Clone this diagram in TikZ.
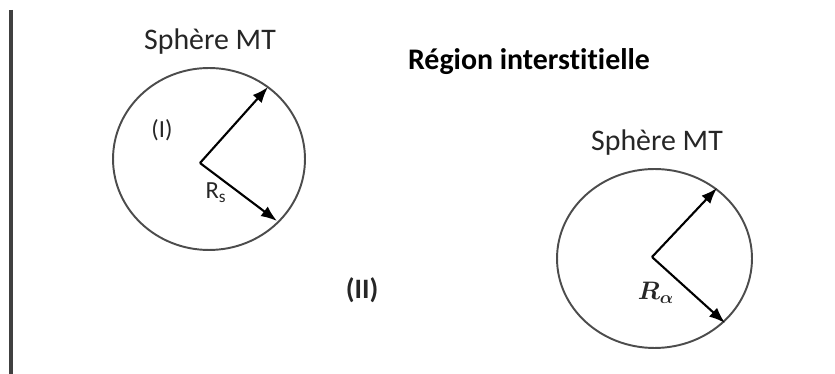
\documentclass[tikz,border=0pt]{standalone}
\usepackage{fontspec}
\setmainfont[Ligatures=NoCommon]{Carlito}
\usepackage{amsmath,amssymb}
\usetikzlibrary{arrows.meta,shapes.geometric}

\tikzset{
  sphere/.style={draw=black!70, line width=1.1pt, ellipse, inner sep=0pt},
  radius/.style={->, line width=1.2pt},
  label/.style={inner sep=0pt, text=black!85, font=\fontsize{17}{20}\selectfont}
}

\begin{document}
\begin{tikzpicture}[x=0.02cm,y=-0.02cm,>={Latex[length=3.2mm,width=2.4mm]}]
\useasboundingbox (0,0) rectangle (835,374);

% Left edge
\draw[line width=2.2pt, black!75] (11,10) -- (11,374);

% Titles
\node[label, text=black, font=\fontsize{17}{20}\selectfont\bfseries] (region) at (529,62) {Région interstitielle};
\node[label] (title1) at (210,42) {Sphère MT};
\node[label] (title2) at (657,143) {Sphère MT};

% First sphere
\node[sphere, minimum width=3.84cm, minimum height=3.64cm] (s1) at (209,159) {};
\coordinate (c1) at (200,163);
\coordinate (t1a) at (268,87);
\coordinate (t1b) at (277,221);
\draw[radius] (c1) -- (t1a);
\draw[radius] (c1) -- (t1b);
\node[label, font=\fontsize{14}{16}\selectfont] (r1) at (216,193) {R\textsubscript{s}};
\node[label, font=\fontsize{14}{16}\selectfont] (zone1) at (162,130) {(I)};

% Second sphere
\node[sphere, minimum width=3.9cm, minimum height=3.58cm] (s2) at (654.5,258.5) {};
\coordinate (c2) at (652,257);
\coordinate (t2a) at (717,188);
\coordinate (t2b) at (725,323);
\draw[radius] (c2) -- (t2a);
\draw[radius] (c2) -- (t2b);
\node[label, font=\fontsize{14}{16}\selectfont] (r2) at (656,293) {$\boldsymbol{R_\alpha}$};

% Interstitial region
\node[label, font=\fontsize{16}{18}\selectfont\bfseries] (zone2) at (362,290) {(II)};

\end{tikzpicture}
\end{document}
